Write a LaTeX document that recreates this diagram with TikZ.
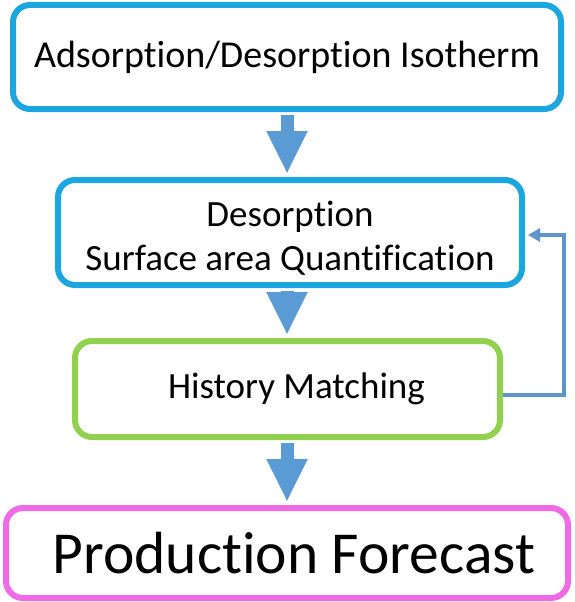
\documentclass[tikz,border=0pt]{standalone}
\usepackage{fontspec}
\setmainfont{Carlito}[Ligatures=NoCommon]
\usetikzlibrary{arrows.meta}
\definecolor{boxblue}{HTML}{1CA6E0}
\definecolor{boxgreen}{HTML}{92D050}
\definecolor{boxpink}{HTML}{F06AE8}
\definecolor{arrowblue}{HTML}{5B9BD5}
\definecolor{loopblue}{HTML}{5E93CC}
\begin{document}
\begin{tikzpicture}[x=1pt,y=-1pt,
  box/.style={draw, line width=6pt, rounded corners=17pt, fill=white, inner sep=0pt, align=center, text=black},
  flow/.style={draw=arrowblue, line width=13pt, -{Triangle[width=38pt,length=43pt]}, shorten >=3pt, shorten <=3pt},
  loop/.style={draw=loopblue, line width=3.5pt, -{Triangle[width=13pt,length=12pt]}, shorten >=3pt}]
\useasboundingbox (0,0) rectangle (574,602);
\node[box, draw=boxblue, minimum width=548pt, minimum height=104pt, font=\fontsize{38}{42}\selectfont] (iso) at (287,57) {Adsorption/Desorption Isotherm};
\node[box, draw=boxblue, minimum width=464pt, minimum height=105pt, font=\fontsize{37}{44}\selectfont] (des) at (290,232.5) {\rule{0pt}{36pt}Desorption\\Surface area Quantification};
\node[box, draw=boxgreen, minimum width=425pt, minimum height=96pt, font=\fontsize{37}{40}\selectfont] (hm) at (287.5,389) {\hspace{18pt}History Matching};
\node[box, draw=boxpink, minimum width=562pt, minimum height=90pt, font=\fontsize{59.5}{62}\selectfont] (pf) at (287,553) {\hspace{14pt}Production Forecast};
\draw[flow] (iso.south) -- (iso.south |- des.north);
\draw[flow] (iso.south |- des.south) -- (iso.south |- hm.north);
\draw[flow] (iso.south |- hm.south) -- (iso.south |- pf.north);
\coordinate (loopcorner) at (564,395);
\draw[loop] (hm.east |- loopcorner) -- (loopcorner) |- ([yshift=-2.5pt]des.east);
\end{tikzpicture}
\end{document}
